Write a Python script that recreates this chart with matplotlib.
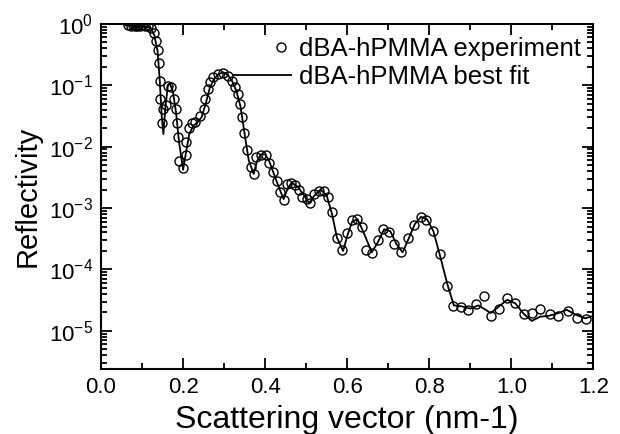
import numpy as np
import matplotlib
matplotlib.use("Agg")
import matplotlib.pyplot as plt
from matplotlib.ticker import LogLocator, MultipleLocator, NullFormatter
from matplotlib.legend_handler import HandlerLine2DCompound

plt.rcParams['font.family'] = ['Liberation Sans', 'DejaVu Sans']
plt.rcParams['mathtext.fontset'] = 'custom'
plt.rcParams['mathtext.rm'] = 'Liberation Sans'
plt.rcParams['mathtext.it'] = 'Liberation Sans'

# experimental points (scattering vector, reflectivity)
exp_q = [0.065, 0.072, 0.077, 0.082, 0.087, 0.091, 0.096, 0.101, 0.108, 0.115,
         0.122, 0.128, 0.134, 0.138, 0.142, 0.1425, 0.144, 0.148, 0.151, 0.158,
         0.164, 0.171, 0.178, 0.182, 0.184, 0.188, 0.190, 0.200, 0.206, 0.207,
         0.214, 0.222, 0.230, 0.242, 0.250, 0.254, 0.260, 0.266, 0.274, 0.286,
         0.298, 0.310, 0.318, 0.326, 0.334, 0.338, 0.344, 0.349, 0.356, 0.365,
         0.373, 0.378, 0.390, 0.402, 0.410, 0.418, 0.429, 0.437, 0.445, 0.454,
         0.462, 0.472, 0.482, 0.490, 0.501, 0.509, 0.520, 0.531, 0.543, 0.552,
         0.5625, 0.575, 0.587, 0.599, 0.611, 0.623, 0.635, 0.647, 0.661, 0.675,
         0.687, 0.701, 0.715, 0.731, 0.747, 0.763, 0.779, 0.793, 0.809, 0.825,
         0.843, 0.859, 0.877, 0.895, 0.913, 0.933, 0.951, 0.969, 0.990, 1.009,
         1.030, 1.051, 1.071, 1.094, 1.115, 1.138, 1.159, 1.183]
exp_r = [0.95, 0.92, 0.97, 0.94, 0.92, 0.96, 0.94, 0.96, 0.93, 0.93,
         0.85, 0.71, 0.52, 0.37, 0.23, 0.118, 0.060, 0.024, 0.041, 0.047,
         0.096, 0.092, 0.060, 0.041, 0.024, 0.0145, 0.0058, 0.0045, 0.0074, 0.0121,
         0.0198, 0.024, 0.0253, 0.032, 0.041, 0.060, 0.087, 0.111, 0.134, 0.151,
         0.161, 0.142, 0.118, 0.092, 0.072, 0.050, 0.0305, 0.0164, 0.0087, 0.0046,
         0.0036, 0.0067, 0.0074, 0.0072, 0.0054, 0.0039, 0.0028, 0.0018, 0.00134, 0.0025,
         0.0026, 0.0024, 0.0020, 0.0015, 0.0014, 0.0012, 0.0017, 0.0019, 0.0019, 0.0015,
         0.00085, 0.00032, 0.00021, 0.00039, 0.00063, 0.00066, 0.00049, 0.00021, 0.000186, 0.0003,
         0.00046, 0.00041, 0.00026, 0.000193, 0.00032, 0.00052, 0.00072, 0.00064, 0.00043, 0.000177,
         5.4e-5, 2.5e-5, 2.45e-5, 2.2e-5, 2.75e-5, 3.75e-5, 1.74e-5, 2.3e-5, 3.4e-5, 2.85e-5,
         1.9e-5, 1.96e-5, 2.3e-5, 1.9e-5, 1.74e-5, 2.1e-5, 1.64e-5, 1.58e-5]

# best fit curve
fit_q = [0.06, 0.12, 0.13, 0.138, 0.143, 0.148, 0.152, 0.157, 0.163, 0.168,
         0.175, 0.183, 0.19, 0.2, 0.207, 0.215, 0.225, 0.235, 0.245, 0.255,
         0.265, 0.275, 0.285, 0.298, 0.31, 0.32, 0.33, 0.34, 0.35, 0.36,
         0.372, 0.38, 0.39, 0.40, 0.41, 0.42, 0.43, 0.445, 0.455, 0.465,
         0.48, 0.495, 0.507, 0.52, 0.535, 0.55, 0.563, 0.575, 0.59, 0.60,
         0.612, 0.625, 0.64, 0.66, 0.675, 0.69, 0.705, 0.72, 0.735, 0.75,
         0.765, 0.78, 0.795, 0.81, 0.825, 0.845, 0.86, 0.88, 0.90, 0.92,
         0.95, 0.97, 0.99, 1.01, 1.03, 1.05, 1.07, 1.09, 1.11, 1.135,
         1.16, 1.18, 1.2]
fit_r = [0.95, 0.88, 0.65, 0.35, 0.12, 0.03, 0.016, 0.045, 0.10, 0.105,
         0.08, 0.035, 0.012, 0.0042, 0.008, 0.016, 0.022, 0.025, 0.03, 0.05,
         0.09, 0.125, 0.15, 0.163, 0.145, 0.115, 0.08, 0.045, 0.016, 0.006,
         0.0036, 0.0058, 0.0075, 0.0075, 0.0058, 0.0038, 0.0025, 0.0014, 0.0021, 0.0026,
         0.0022, 0.0016, 0.0012, 0.0016, 0.002, 0.0016, 0.0008, 0.00033, 0.0002, 0.00035,
         0.0006, 0.00066, 0.0004, 0.00019, 0.00028, 0.00045, 0.00042, 0.00026, 0.00019, 0.00032,
         0.00055, 0.00072, 0.00065, 0.00042, 0.00018, 5.5e-5, 2.6e-5, 2.5e-5, 2.3e-5, 2.6e-5,
         1.95e-5, 2.5e-5, 3.2e-5, 2.8e-5, 1.9e-5, 1.45e-5, 1.7e-5, 1.75e-5, 1.9e-5, 2.2e-5,
         1.8e-5, 1.6e-5, 1.75e-5]


class RightMarkerHandler(HandlerLine2DCompound):
    # put the legend circle near the right end of the handle
    def get_xdata(self, legend, xdescent, ydescent, width, height, fontsize):
        xdata = np.array([-xdescent, -xdescent + width])
        return xdata, np.array([-xdescent + 0.82 * width])


fig = plt.figure(figsize=(6.2, 4.34), dpi=100)
ax = fig.add_axes([0.163, 0.150, 0.794, 0.795])

exp_line, = ax.plot(exp_q, exp_r, 'o', mfc='none', mec='black', ms=6.5, mew=1.0,
                    label='dBA-hPMMA experiment', zorder=3)
ax.plot(fit_q, fit_r, '-', color='black', lw=1.3, label='dBA-hPMMA best fit', zorder=2)

ax.set_yscale('log')
ax.set_xlim(0, 1.2)
ax.set_ylim(2.4e-6, 1)
ax.xaxis.set_major_locator(MultipleLocator(0.2))
ax.xaxis.set_minor_locator(MultipleLocator(0.1))
ax.yaxis.set_major_locator(LogLocator(base=10, numticks=10))
ax.yaxis.set_minor_locator(LogLocator(base=10, subs=np.arange(2, 10), numticks=20))
ax.yaxis.set_minor_formatter(NullFormatter())
ax.xaxis.set_major_formatter(plt.FuncFormatter(lambda v, p: f"{v:.1f}"))

ax.tick_params(which='both', direction='in', top=True, right=True, width=1.3)
ax.tick_params(which='major', length=8, labelsize=16, pad=6)
ax.tick_params(which='minor', length=4)
for s in ax.spines.values():
    s.set_linewidth(1.5)

ax.set_xlabel('Scattering vector (nm-1)', fontsize=23, labelpad=5)
ax.set_ylabel('Reflectivity', fontsize=21, labelpad=5)

ax.legend(loc='upper right', bbox_to_anchor=(1.0, 1.0), frameon=False,
          fontsize=18.5, numpoints=1, handlelength=2.2, handletextpad=0.3,
          labelspacing=0.15, borderaxespad=0.1,
          handler_map={exp_line: RightMarkerHandler()})

fig.savefig('out.png', dpi=100)
